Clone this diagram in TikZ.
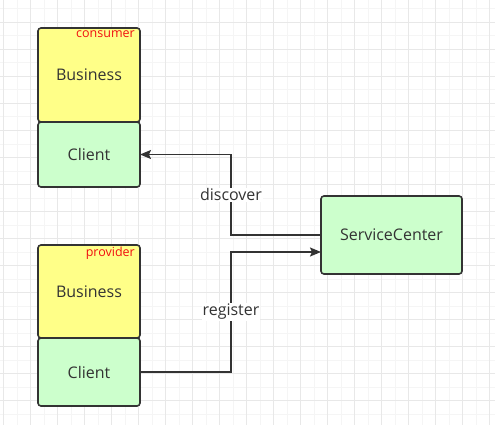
\documentclass[tikz,border=0pt]{standalone}
\usepackage{fontspec}
\setmainfont{Open Sans}
\usetikzlibrary{positioning, arrows.meta}
\definecolor{bizyellow}{HTML}{FFFF88}
\definecolor{cligreen}{HTML}{CCFFCC}
\definecolor{ink}{HTML}{333333}
\definecolor{tagred}{HTML}{F01010}
\begin{document}
\begin{tikzpicture}[x=1pt, y=-1pt, node distance=0pt,
  box/.style={draw=ink, line width=1.6pt, outer sep=0pt, rounded corners=3pt, minimum width=102pt, text=ink, font=\fontsize{16}{19}\selectfont},
  biz/.style={box, fill=bizyellow, minimum height=#1},
  cli/.style={box, fill=cligreen, minimum height=#1},
  tag/.style={text=tagred, inner sep=1pt, font=\fontsize{12.5}{14}\selectfont},
  conn/.style={draw=ink, line width=1.5pt, -{Stealth[length=11pt, width=9pt, inset=2pt]}},
  lbl/.style={fill=white, inner sep=1pt, text=ink, font=\fontsize{16}{19}\selectfont}]
	\useasboundingbox (0,0) rectangle (495,425);
	\begin{scope}
	  \clip (0,0) rectangle (495,425);
	  \fill[white] (0,0) rectangle (495,425);
	  \draw[black!4, line width=0.6pt, shift={(3.3,22.3)}] (-27,-27) grid[step=13.5pt] (513,432);
	  \draw[black!9, line width=0.6pt, shift={(3.3,22.3)}] (-27,-27) grid[step=27pt] (513,432);
	\end{scope}
	\node (b1) [biz=94pt] at (89,75) {Business};
	\node (c1) [cli=65pt, below=of b1] {Client};
	\node (t1) [tag, anchor=north east] at ([xshift=-4pt, yshift=-1pt]b1.north east) {consumer};
	\node (b2) [biz=93pt] at (89,291.5) {Business};
	\node (c2) [cli=68pt, below=of b2] {Client};
	\node (t2) [tag, anchor=north east] at ([xshift=-4pt, yshift=-1pt]b2.north east) {provider};
	\node (sc) [cli=78pt, minimum width=141pt] at (391.5,235) {ServiceCenter};
	\coordinate (in) at ([yshift=-17pt]sc.west);
	\draw[conn] (sc.west) -- ++(-90,0) |- (c1.east) node[lbl, pos=0.25] {discover};
	\draw[conn] (c2.east) -| ([xshift=-90pt]in) node[lbl, pos=0.75] {register} -- (in);
\end{tikzpicture}
\end{document}
